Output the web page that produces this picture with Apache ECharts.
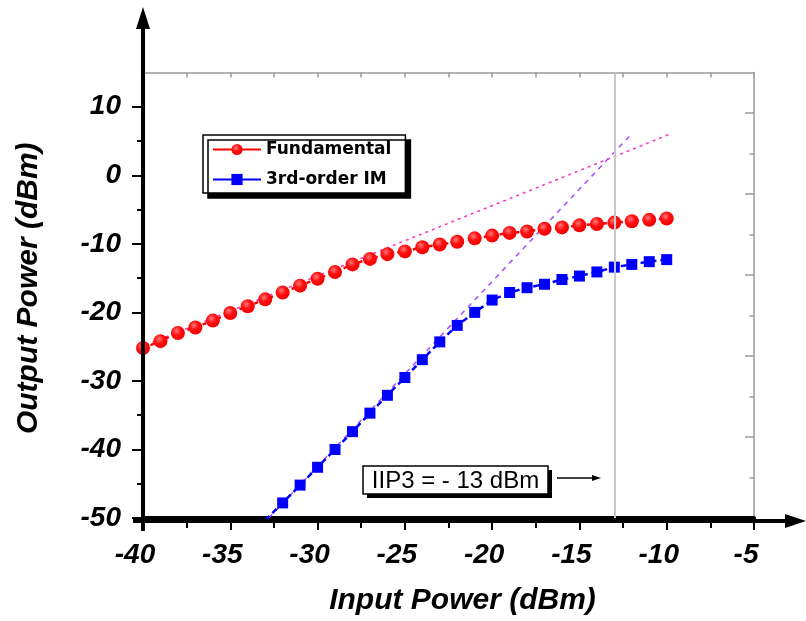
<!DOCTYPE html>
<html>
<head>
<meta charset="utf-8">
<script src="https://cdn.jsdelivr.net/npm/echarts@6/dist/echarts.min.js"></script>
<style>
  html, body { margin: 0; padding: 0; background: #fff; }
  #chart { width: 806px; height: 621px; }
</style>
</head>
<body>
<div id="chart"></div>
<script>
// Two-tone test: fundamental output and 3rd-order intermodulation vs input power
const fundIn = [-40, -39, -38, -37, -36, -35, -34, -33, -32, -31, -30, -29, -28, -27, -26, -25,
                -24, -23, -22, -21, -20, -19, -18, -17, -16, -15, -14, -13, -12, -11, -10];
const fundOut = [-25.2, -24.2, -23.0, -22.2, -21.2, -20.1, -19.1, -18.1, -17.1, -16.1, -15.1, -14.1,
                 -13.0, -12.2, -11.5, -11.1, -10.5, -10.1, -9.7, -9.2, -8.8, -8.4, -8.2, -7.8,
                 -7.6, -7.3, -7.1, -6.9, -6.7, -6.5, -6.3];

const im3In = [-33, -32, -31, -30, -29, -28, -27, -26, -25, -24, -23, -22, -21, -20, -19, -18,
               -17, -16, -15, -14, -13, -12, -11, -10];
const im3Out = [-50.3, -47.8, -45.2, -42.6, -40.0, -37.4, -34.7, -32.1, -29.5, -26.9, -24.3, -21.9,
                -20.0, -18.2, -17.1, -16.4, -15.9, -15.2, -14.7, -14.1, -13.4, -13.0, -12.6, -12.3];

// Small-signal extrapolations (end points)
const fundFitIn = [-40.57, -9.72];
const fundFitOut = [-25.5, 6.1];
const im3FitIn = [-32.8, -11.95];
const im3FitOut = [-50, 6.2];

const iip3 = -13; // dBm

const yTickValues = [-50, -40, -30, -20, -10, 0, 10];
const yMinorValues = [-45, -35, -25, -15, -5, 5];

const names = ['Fundamental', '3rd-order IM'];

const zip = (xs, ys) => xs.map((x, i) => [x, ys[i]]);

// plot frame
const L = 143, T = 72.5, R = 754, B = 521;
const W = 806, H = 621;
const FONT = '"Liberation Sans", Arial, sans-serif';
const FRAME = '#9a9a9a';

// IIP3 note box
const NOTE = { x: 363, y: 466, w: 185, h: 28 };

const chart = echarts.init(document.getElementById('chart'), null, { renderer: 'canvas' });

const tickLabel = {
  fontFamily: FONT, fontSize: 28, fontWeight: 'bold', fontStyle: 'italic', color: '#000'
};
const titleText = {
  fontFamily: FONT, fontSize: 30, fontWeight: 'bold', fontStyle: 'italic', color: '#000'
};

chart.setOption({
  animation: false,
  backgroundColor: '#fff',
  grid: { left: L, top: T, right: W - R, bottom: H - B, containLabel: false },
  legend: {
    data: names,
    orient: 'vertical',
    left: 203, top: 135,
    itemWidth: 48, itemHeight: 14, itemGap: 13,
    padding: [6, 14, 5, 9],
    backgroundColor: '#fff',
    borderColor: '#000', borderWidth: 1.5,
    shadowColor: '#000', shadowBlur: 0, shadowOffsetX: 5, shadowOffsetY: 5,
    lineStyle: { type: 'solid' },
    textStyle: { fontFamily: '"DejaVu Sans", sans-serif', fontWeight: 'bold', fontSize: 17, color: '#000' }
  },
  xAxis: [
    {
      type: 'value', min: -40, max: -5, interval: 5, position: 'bottom',
      name: 'Input Power (dBm)', nameLocation: 'middle', nameGap: 68,
      nameTextStyle: Object.assign({ padding: [0, 0, 0, 28] }, titleText),
      axisLine: { show: true, onZero: false, lineStyle: { color: '#000', width: 4 } },
      axisTick: { show: true, inside: false, length: 12, lineStyle: { color: '#000', width: 2 } },
      minorTick: { show: true, splitNumber: 2, length: 10, lineStyle: { color: '#000', width: 2 } },
      axisLabel: Object.assign({ margin: 23, padding: [0, 16, 0, 0] }, tickLabel),
      splitLine: { show: false }
    },
    {
      type: 'value', min: -40, max: -5, interval: 2.5, position: 'top',
      axisLine: { show: true, onZero: false, lineStyle: { color: FRAME, width: 1.5 } },
      axisTick: { show: true, inside: true, length: 5, lineStyle: { color: FRAME, width: 1.5 } },
      axisLabel: { show: false },
      splitLine: { show: false }
    }
  ],
  yAxis: [
    {
      type: 'value', min: -50, max: 15, position: 'left',
      name: 'Output Power (dBm)', nameLocation: 'middle', nameGap: 99, nameRotate: 90,
      nameTextStyle: Object.assign({ padding: [0, 0, 0, 14] }, titleText),
      axisLine: { show: true, onZero: false, lineStyle: { color: '#000', width: 4 } },
      axisTick: { show: true, inside: false, length: 11, customValues: yTickValues,
                  lineStyle: { color: '#000', width: 2 } },
      axisLabel: Object.assign({ margin: 22, customValues: yTickValues }, tickLabel),
      splitLine: { show: false }
    },
    {
      type: 'value', min: -50, max: 15, position: 'left',
      axisLine: { show: false, onZero: false },
      axisTick: { show: true, inside: false, length: 6, customValues: yMinorValues,
                  lineStyle: { color: '#000', width: 2 } },
      axisLabel: { show: false },
      splitLine: { show: false }
    },
    {
      type: 'value', min: 0, max: 11, position: 'right',
      axisLine: { show: true, onZero: false, lineStyle: { color: FRAME, width: 1.5 } },
      axisTick: { show: true, inside: true, length: 9, customValues: [2, 4, 6, 8, 10],
                  lineStyle: { color: FRAME, width: 1.5 } },
      axisLabel: { show: false },
      splitLine: { show: false }
    },
    {
      type: 'value', min: 0, max: 11, position: 'right',
      axisLine: { show: false, onZero: false },
      axisTick: { show: true, inside: true, length: 4.5, customValues: [1, 3, 5, 7, 9],
                  lineStyle: { color: FRAME, width: 1.5 } },
      axisLabel: { show: false },
      splitLine: { show: false }
    }
  ],
  series: [
    {
      type: 'line', data: zip(fundFitIn, fundFitOut), showSymbol: false, symbol: 'none',
      clip: false, silent: true, z: 1,
      lineStyle: { color: '#ff33bb', width: 1.5, type: [3, 4] },
      markLine: {
        silent: true, symbol: 'none', label: { show: false },
        lineStyle: { color: '#c8c8c8', width: 2, type: 'solid' },
        data: [{ xAxis: iip3 }]
      }
    },
    {
      type: 'line', data: zip(im3FitIn, im3FitOut), showSymbol: false, symbol: 'none',
      silent: true, z: 1,
      lineStyle: { color: '#a64dff', width: 1.5, type: [5, 5] }
    },
    {
      name: names[0], type: 'line', data: zip(fundIn, fundOut), z: 3,
      symbol: 'circle', symbolSize: 14,
      itemStyle: {
        color: new echarts.graphic.RadialGradient(0.4, 0.35, 0.7, [
          { offset: 0, color: '#ff7a7a' }, { offset: 0.45, color: '#ff1010' }, { offset: 1, color: '#ee0000' }
        ])
      },
      lineStyle: { color: '#ff0000', width: 2.5, type: [4, 4] }
    },
    {
      name: names[1], type: 'line', data: zip(im3In, im3Out), z: 3,
      symbol: 'rect', symbolSize: 11,
      itemStyle: { color: '#0000ff' },
      lineStyle: { color: '#0000ff', width: 2.5, type: [6, 4] }
    }
  ],
  graphic: [
    // axis arrows
    { type: 'line', shape: { x1: L, y1: B + 10, x2: L, y2: 26 }, style: { stroke: '#000', lineWidth: 4 }, z: 10 },
    { type: 'polygon', shape: { points: [[L - 7, 29], [L + 7, 29], [L, 7]] }, style: { fill: '#000' }, z: 10 },
    { type: 'line', shape: { x1: L - 10, y1: B, x2: 788, y2: B }, style: { stroke: '#000', lineWidth: 4 }, z: 10 },
    { type: 'polygon', shape: { points: [[785, B - 7], [785, B + 7], [806, B]] }, style: { fill: '#000' }, z: 10 },
    // IIP3 note: drop shadow, framed box, text, pointer arrow
    { type: 'rect', shape: { x: NOTE.x + 4, y: NOTE.y + 4, width: NOTE.w, height: NOTE.h },
      style: { fill: '#000' }, z: 19 },
    { type: 'rect', shape: { x: NOTE.x, y: NOTE.y, width: NOTE.w, height: NOTE.h },
      style: { fill: '#fff', stroke: '#000', lineWidth: 1.5 }, z: 20 },
    {
      type: 'text', x: NOTE.x + NOTE.w / 2, y: NOTE.y + NOTE.h / 2 + 1, z: 21,
      style: {
        text: 'IIP3 = - ' + Math.abs(iip3) + ' dBm',
        fontFamily: FONT, fontSize: 24, fill: '#000',
        align: 'center', verticalAlign: 'middle'
      }
    },
    { type: 'line', shape: { x1: 557, y1: 478, x2: 594, y2: 478 }, style: { stroke: '#000', lineWidth: 1.3 }, z: 20 },
    { type: 'polygon', shape: { points: [[592, 475], [592, 481], [601, 478]] }, style: { fill: '#000' }, z: 20 }
  ]
});
</script>
</body>
</html>
